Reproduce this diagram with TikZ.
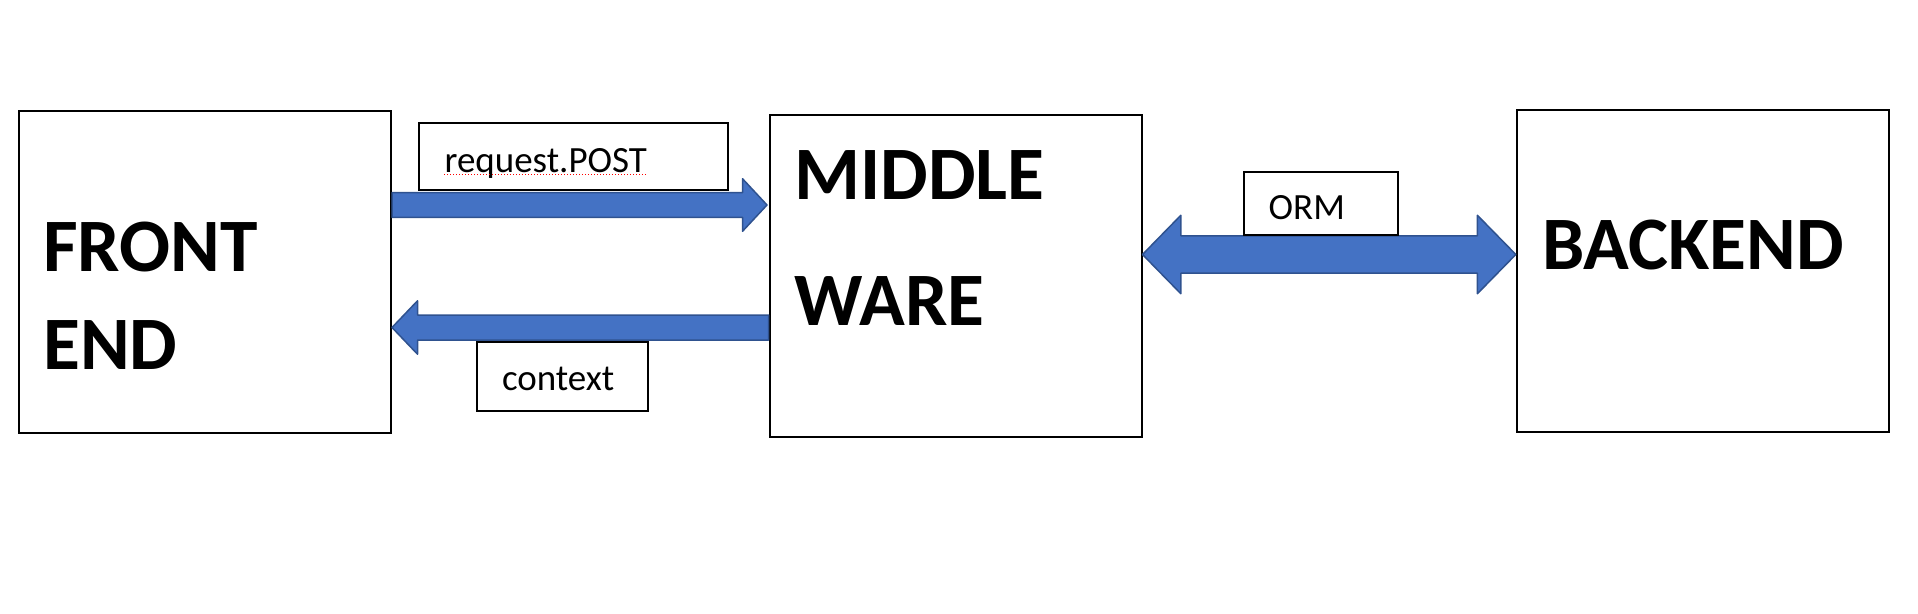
\documentclass[tikz,border=0pt]{standalone}
\usepackage{fontspec}
\setmainfont{Carlito}
\usetikzlibrary{positioning,calc}
\definecolor{arrowBlue}{HTML}{4472C4}
\definecolor{arrowEdge}{HTML}{2F528F}
\tikzset{
  tier/.style={draw, line width=2pt, minimum width=372pt, minimum height=322pt, inner sep=0pt},
  tagbox/.style={draw, line width=1.8pt, inner sep=0pt},
  bigtext/.style={font=\bfseries\fontsize{75.5}{98}\selectfont, align=left, inner sep=0pt, anchor=base west},
  tagtext/.style={font=\fontsize{37}{44}\selectfont, inner sep=0pt, anchor=base west},
  blockarrow/.style={fill=arrowBlue, draw=arrowEdge, line width=1.5pt, line join=round},
  spellcheck/.style={red, line width=1pt, dash pattern=on 1pt off 2pt}
}

\begin{document}
\begin{tikzpicture}[x=1pt, y=-1pt]
  \useasboundingbox (0,0) rectangle (1918,613);
  % the three tiers
  \node[tier] (front) at (205,272) {};
  \node[tier, minimum height=321.5pt] (middle) at (955.5,275.75) {};
  \node[tier] (back) at (1702.8,271) {};
  \node[bigtext] (fronttext) at ($(front.north west)+(25,259)$) {FRONT\\END};
  \node[bigtext, font=\bfseries\fontsize{75.5}{126.7}\selectfont] (middletext) at ($(middle.north west)+(26,211.7)$) {MIDDLE\\WARE};
  \node[bigtext] (backtext) at ($(back.north west)+(26,160.7)$) {BACKEND};
  % request arrow
  \coordinate (reqS) at (front.east |- 0,205);
  \coordinate (reqE) at (middle.west |- 0,205);
  \draw[blockarrow] ($(reqS)+(0,-12.3)$) -- ($(reqE)+(-26,-12.3)$) -- ($(reqE)+(-26,-26.3)$) -- ($(reqE)+(-1.5,0)$)
    -- ($(reqE)+(-26,26.3)$) -- ($(reqE)+(-26,12.3)$) -- ($(reqS)+(0,12.3)$) -- cycle;
  % context arrow
  \coordinate (ctxS) at (middle.west |- 0,327.5);
  \coordinate (ctxE) at (front.east |- 0,327.5);
  \draw[blockarrow] ($(ctxS)+(0,-12.5)$) -- ($(ctxE)+(25.5,-12.5)$) -- ($(ctxE)+(25.5,-26.7)$) -- (ctxE)
    -- ($(ctxE)+(25.5,26.7)$) -- ($(ctxE)+(25.5,12.5)$) -- ($(ctxS)+(0,12.5)$) -- cycle;
  % ORM arrow, both ways
  \coordinate (ormL) at (middle.east |- 0,254.5);
  \coordinate (ormR) at (back.west |- 0,254.5);
  \draw[blockarrow] (ormL) -- ($(ormL)+(38.3,-39.2)$) -- ($(ormL)+(38.3,-18.7)$) -- ($(ormR)+(-38.4,-18.7)$)
    -- ($(ormR)+(-38.4,-39.2)$) -- (ormR) -- ($(ormR)+(-38.4,39.2)$) -- ($(ormR)+(-38.4,18.7)$)
    -- ($(ormL)+(38.3,18.7)$) -- ($(ormL)+(38.3,39.2)$) -- cycle;
  % label boxes
  \node[tagbox, minimum width=309pt, minimum height=66.7pt] (reqtag) at (573.8,156.7) {};
  \node[tagbox, minimum width=171.6pt, minimum height=68.4pt] (ctxtag) at (562.5,376.5) {};
  \node[tagbox, minimum width=154.3pt, minimum height=63.3pt] (ormtag) at (1321,203.3) {};
  \node[tagtext] (reqtext) at ($(reqtag.north west)+(26,50)$) {request.POST};
  \node[tagtext] (ctxtext) at ($(ctxtag.north west)+(26,48.7)$) {context};
  \node[tagtext] (ormtext) at ($(ormtag.north west)+(25.5,48.3)$) {ORM};
  \draw[spellcheck] ([yshift=-2pt]reqtext.base west) -- ([yshift=-2pt]reqtext.base east);
\end{tikzpicture}
\end{document}
